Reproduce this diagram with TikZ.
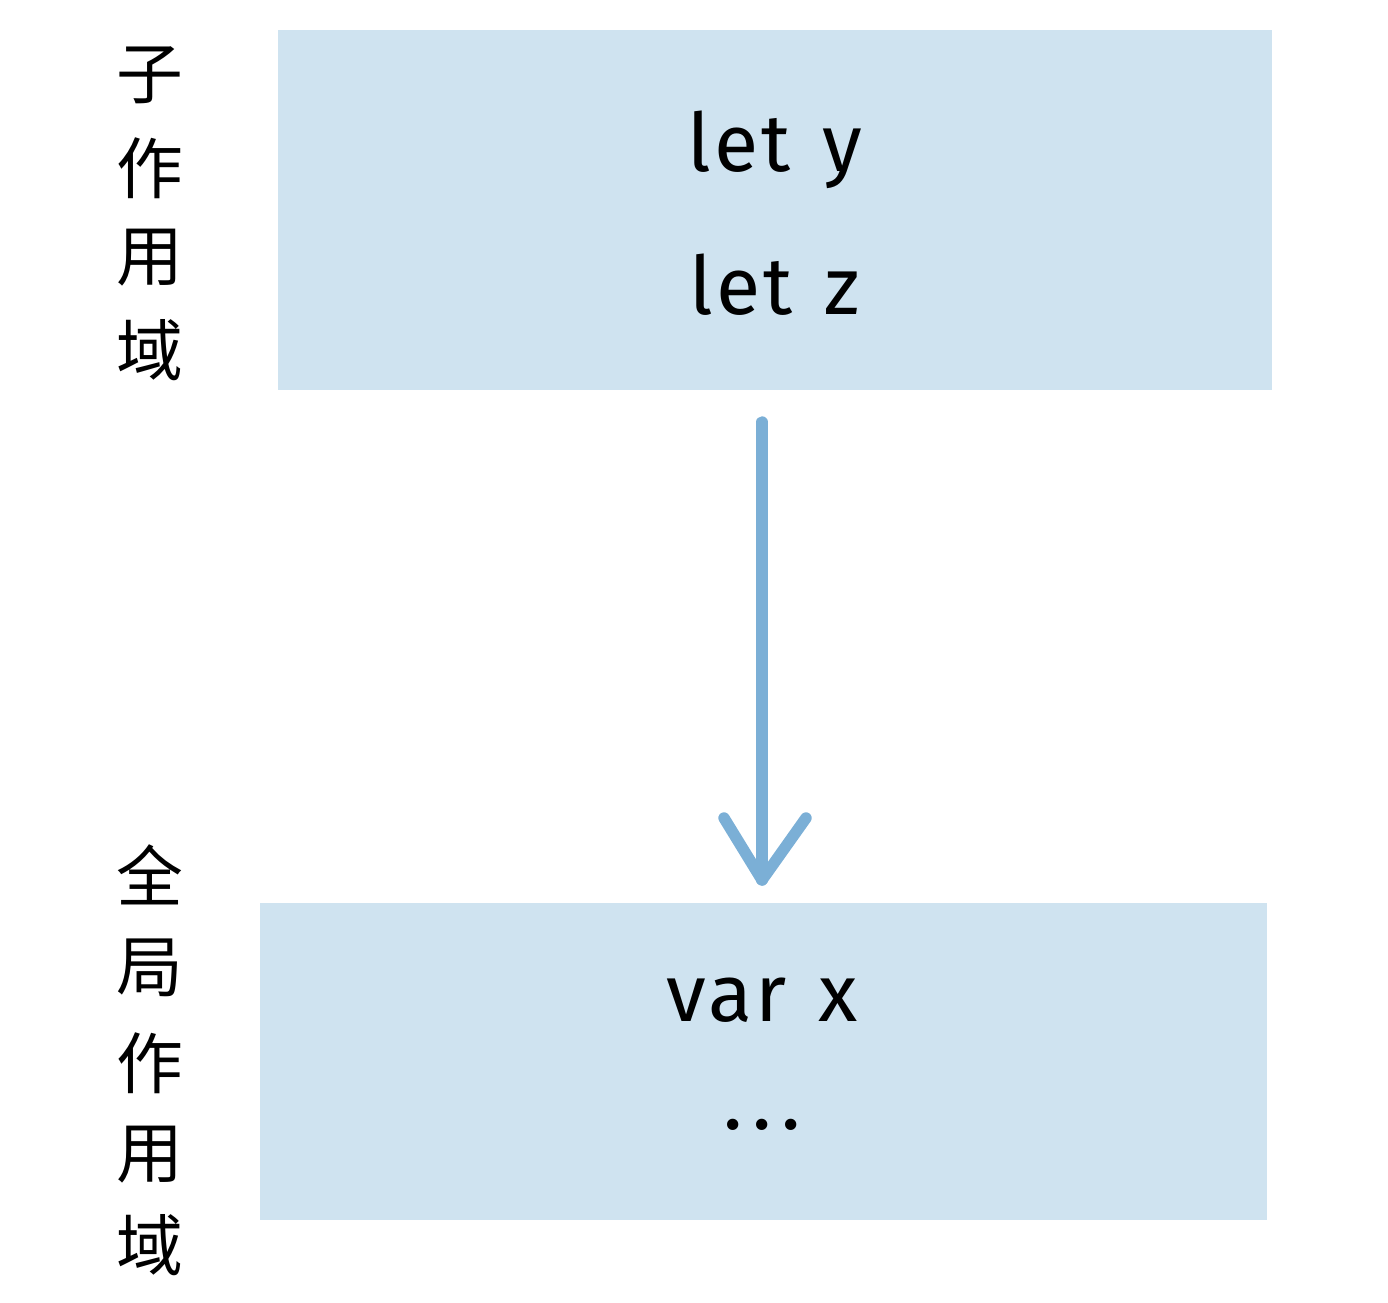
\documentclass[tikz,border=0pt]{standalone}
\usepackage{fontspec}
\setmainfont{Fira Sans}[LetterSpace=4,WordSpace=1.3]
\newfontfamily\cjk{Noto Sans CJK SC}
\definecolor{boxfill}{HTML}{CFE3F0}
\definecolor{arr}{HTML}{7BAFD6}
\begin{document}
\begin{tikzpicture}[x=0.02cm,y=-0.02cm,
  code/.style={font=\fontsize{46}{50}\selectfont, text=black},
  lab/.style={font=\cjk\fontsize{38}{40}\selectfont, text=black},
  scopebox/.style={fill=boxfill, draw=none}]
\useasboundingbox (0,0) rectangle (1388,1302);
\fill[scopebox] (278,30) rectangle (1272,390);
\fill[scopebox] (260,903) rectangle (1267,1220);
\node[code] (ly) at (775,150) {let y};
\node[code] (lz) at (775,285) {let z};
\node[code] (vx) at (762,1000) {var x};
\node[code] (dots) at (762,1125) {.\hspace{0.12em}.\hspace{0.12em}.};
\coordinate (s) at (762,422);
\coordinate (e) at (762,880);
\coordinate (wl) at (724,818);
\coordinate (wr) at (806,818);
\draw[arr, line width=6.5pt, line cap=round] (s) -- (e);
\draw[arr, line width=6.5pt, line cap=round, line join=round] (wl) -- (e) -- (wr);
\foreach \c/\y [count=\i] in {子/75,作/168,用/258,域/350}
  \node[lab] (a\i) at (150,\y) {\c};
\foreach \c/\y [count=\i] in {全/875,局/968,作/1063,用/1155,域/1245}
  \node[lab] (b\i) at (150,\y) {\c};
\end{tikzpicture}
\end{document}
